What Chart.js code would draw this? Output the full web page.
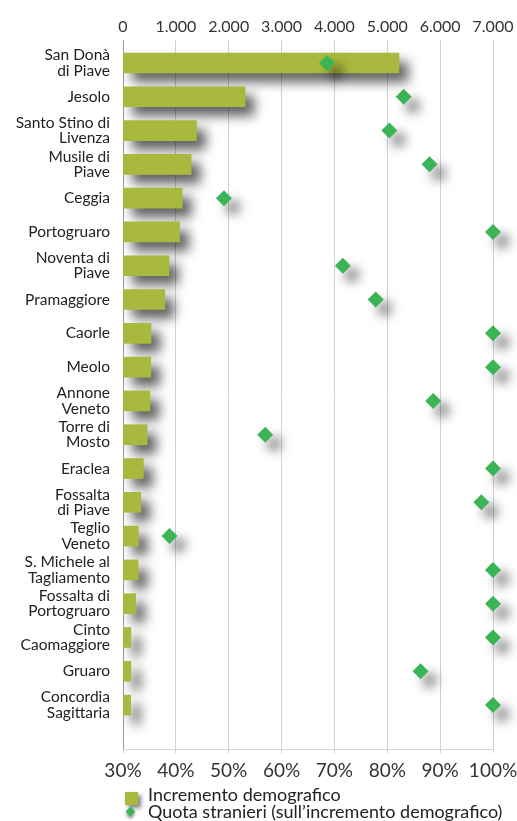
<!DOCTYPE html>
<html>
<head>
<meta charset="utf-8">
<script src="https://cdn.jsdelivr.net/npm/chart.js@4.4.1/dist/chart.umd.min.js"></script>
<style>
  html, body { margin: 0; padding: 0; background: #ffffff; }
  #wrap { position: relative; width: 517px; height: 821px; overflow: hidden; }
  #legend { position: absolute; left: 123px; top: 786px; font-family: Lato, "Open Sans", sans-serif; font-size: 18px; line-height: 17px; color: #222; }
  .li { position: relative; padding-left: 25px; white-space: nowrap; height: 17px; }
  .sq { position: absolute; left: 2px; top: 6px; width: 13px; height: 13px; background: #a8b93e; box-shadow: 3px 3px 4px rgba(0,0,0,0.5); }
  .dm { position: absolute; left: 4px; top: 5px; width: 7px; height: 7px; background: #3bb456; transform: rotate(45deg); box-shadow: 2px 2px 3px rgba(0,0,0,0.4); }
</style>
</head>
<body>
<div id="wrap">
  <canvas id="c" width="517" height="821"></canvas>
  <div id="legend">
    <div class="li"><span class="sq"></span>Incremento demografico</div>
    <div class="li"><span class="dm"></span>Quota stranieri (sull’incremento demografico)</div>
  </div>
</div>
<script>
// ---- Data ----
const categories = [
  ["San Donà", "di Piave"],
  "Jesolo",
  ["Santo Stino di", "Livenza"],
  ["Musile di", "Piave"],
  "Ceggia",
  "Portogruaro",
  ["Noventa di", "Piave"],
  "Pramaggiore",
  "Caorle",
  "Meolo",
  ["Annone", "Veneto"],
  ["Torre di", "Mosto"],
  "Eraclea",
  ["Fossalta", "di Piave"],
  ["Teglio", "Veneto"],
  ["S. Michele al", "Tagliamento"],
  ["Fossalta di", "Portogruaro"],
  ["Cinto", "Caomaggiore"],
  "Gruaro",
  ["Concordia", "Sagittaria"]
];
const incrementoDemografico = [5220, 2310, 1390, 1290, 1120, 1070, 870, 790, 530, 525, 510, 455, 385, 335, 290, 285, 240, 150, 150, 145];
const quotaStranieri = [68.6, 83.1, 80.4, 88.0, 49.1, 100, 71.6, 77.8, 100, 100, 88.7, 56.9, 100, 97.8, 38.8, 100, 100, 100, 86.3, 100];
const countTickLabels = ["0", "1.000", "2.000", "3.000", "4.000", "5.000", "6.000", "7.000"];
const pctTickLabels = ["30%", "40%", "50%", "60%", "70%", "80%", "90%", "100%"];

// ---- Chart ----
const shadowPlugin = {
  id: 'dropShadow',
  beforeDatasetDraw(chart) {
    const ctx = chart.ctx;
    ctx.save();
    ctx.shadowColor = 'rgba(0,0,0,0.62)';
    ctx.shadowBlur = 12;
    ctx.shadowOffsetX = 9;
    ctx.shadowOffsetY = 9;
  },
  afterDatasetDraw(chart) {
    chart.ctx.restore();
  }
};

const FONT = 'Lato, "Open Sans", sans-serif';

new Chart(document.getElementById('c'), {
  type: 'bar',
  data: {
    datasets: [
      {
        type: 'bar',
        label: 'Incremento demografico',
        data: incrementoDemografico.map((v, i) => ({ x: v, y: i })),
        xAxisID: 'xCount',
        yAxisID: 'y',
        backgroundColor: '#a8b93e',
        borderWidth: 0,
        barThickness: 20,
        order: 2
      },
      {
        type: 'scatter',
        label: 'Quota stranieri (sull’incremento demografico)',
        data: quotaStranieri.map((v, i) => ({ x: v, y: i })),
        xAxisID: 'xPct',
        yAxisID: 'y',
        pointStyle: 'rectRot',
        pointRadius: 8,
        pointHoverRadius: 8,
        backgroundColor: '#3bb456',
        borderWidth: 0,
        clip: false,
        order: 1
      }
    ]
  },
  options: {
    indexAxis: 'y',
    responsive: false,
    animation: false,
    devicePixelRatio: 1,
    layout: { padding: { left: 0, right: 24, top: 0, bottom: 0 } },
    plugins: {
      legend: { display: false },
      tooltip: { enabled: false }
    },
    scales: {
      y: {
        type: 'linear',
        reverse: true,
        offset: false,
        min: -0.68,
        max: 20.3,
        afterBuildTicks: (s) => { s.ticks = categories.map((c, i) => ({ value: i })); },
        afterFit: (s) => { s.width = 123; s.paddingTop = 0; s.paddingBottom = 0; },
        grid: { display: false, drawTicks: false, offset: false },
        border: { display: true, color: '#9a9a9a', width: 1 },
        ticks: {
          autoSkip: false,
          padding: 13,
          color: '#222',
          font: { family: FONT, size: 15.5, lineHeight: 1.0 },
          callback: (v) => categories[v]
        }
      },
      xCount: {
        type: 'linear',
        position: 'top',
        min: 0,
        max: 7000,
        afterFit: (s) => { s.height = 40; s.paddingLeft = 0; s.paddingRight = 0; },
        grid: { color: '#d2d2d2', drawTicks: false, tickLength: 0, lineWidth: 1 },
        border: { display: false },
        ticks: {
          stepSize: 1000,
          padding: 4,
          maxRotation: 0,
          minRotation: 0,
          color: '#333',
          font: { family: FONT, size: 16 },
          callback: (v, i) => countTickLabels[i]
        }
      },
      xPct: {
        type: 'linear',
        position: 'bottom',
        min: 30,
        max: 100,
        afterFit: (s) => { s.height = 72; s.paddingLeft = 0; s.paddingRight = 0; },
        grid: { drawOnChartArea: false, drawTicks: true, tickLength: 4, color: '#cfcfcf' },
        border: { display: true, color: '#d6d6d6', width: 1 },
        ticks: {
          stepSize: 10,
          padding: 6,
          maxRotation: 0,
          minRotation: 0,
          autoSkip: false,
          color: '#333',
          font: { family: FONT, size: 19 },
          callback: (v, i) => pctTickLabels[i]
        }
      }
    }
  },
  plugins: [shadowPlugin]
});
</script>
</body>
</html>
